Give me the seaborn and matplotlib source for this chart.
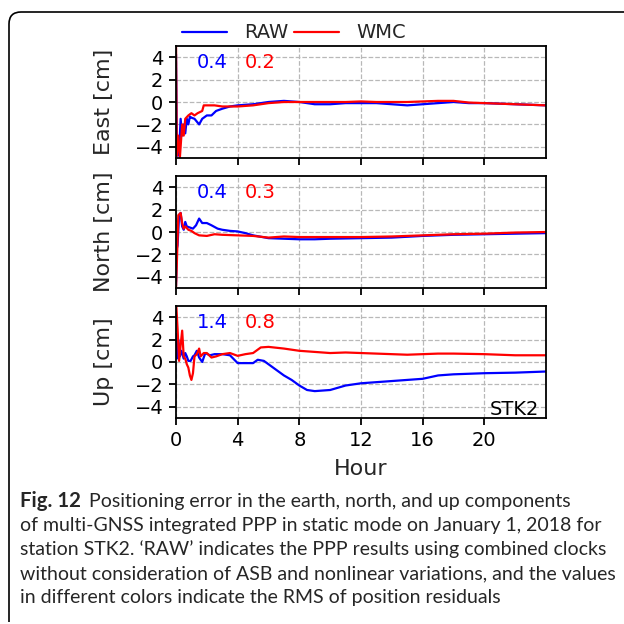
import numpy as np
import pandas as pd
import seaborn as sns
import matplotlib
matplotlib.use("Agg")
import matplotlib.pyplot as plt
from matplotlib.path import Path
from matplotlib.patches import PathPatch

# ---------------- data ----------------
east_raw_t = [0, 0.05, 0.12, 0.2, 0.3, 0.4, 0.5, 0.6, 0.7, 0.8, 0.9, 1.0, 1.2, 1.5, 1.7, 2.0, 2.3, 2.6, 3.0, 3.5, 4, 5, 6, 7, 8, 9, 10, 11, 12, 13, 14, 15, 16, 17, 18, 19, 20, 22, 24]
east_raw_v = [4.3, -3.5, -4.8, -4.6, -1.5, -3.0, -2.0, -2.8, -1.5, -2.0, -1.3, -1.4, -1.5, -2.0, -1.5, -1.2, -1.2, -0.8, -0.6, -0.4, -0.3, -0.2, 0.0, 0.1, 0.0, -0.2, -0.2, -0.1, -0.1, -0.1, -0.2, -0.3, -0.2, -0.1, 0.0, -0.1, -0.1, -0.2, -0.3]
east_wmc_t = [0, 0.05, 0.15, 0.25, 0.4, 0.5, 0.6, 0.8, 1.0, 1.2, 1.4, 1.7, 1.8, 2.1, 2.5, 3, 4, 5, 6, 7, 8, 9, 10, 11, 12, 13, 14, 15, 16, 17, 18, 19, 20, 22, 24]
east_wmc_v = [5.5, -4.8, -3.0, -5.0, -2.0, -3.0, -1.5, -1.2, -1.0, -1.2, -1.0, -0.8, -0.3, -0.3, -0.3, -0.4, -0.4, -0.3, -0.1, 0.0, 0.0, 0.0, 0.0, 0.0, 0.05, 0.0, 0.0, 0.0, 0.05, 0.1, 0.1, -0.05, -0.1, -0.2, -0.3]

north_raw_t = [0, 0.05, 0.1, 0.2, 0.3, 0.4, 0.5, 0.6, 0.7, 0.9, 1.1, 1.3, 1.5, 1.7, 2.0, 2.3, 2.7, 3.0, 3.5, 4, 4.5, 5, 6, 7, 8, 9, 10, 12, 14, 16, 18, 20, 22, 24]
north_raw_v = [-4.8, -1.5, -1.2, 1.5, 1.7, 0.5, 0.2, 0.9, 0.5, 0.4, 0.3, 0.6, 1.2, 0.8, 0.8, 0.6, 0.3, 0.2, 0.1, 0.05, -0.1, -0.3, -0.55, -0.6, -0.65, -0.65, -0.6, -0.55, -0.5, -0.35, -0.25, -0.2, -0.15, -0.1]
north_wmc_t = [0, 0.05, 0.15, 0.3, 0.4, 0.5, 0.6, 0.8, 1.0, 1.2, 1.5, 2.0, 2.5, 3, 4, 5, 6, 7, 8, 10, 12, 14, 16, 18, 20, 22, 24]
north_wmc_v = [-5.0, -3.0, 1.5, 1.7, 0.8, 0.3, 0.5, 0.2, 0.1, -0.1, -0.3, -0.35, -0.2, -0.25, -0.3, -0.35, -0.5, -0.4, -0.45, -0.45, -0.45, -0.4, -0.3, -0.2, -0.15, -0.05, 0.0]

up_raw_t = [0, 0.05, 0.15, 0.25, 0.35, 0.5, 0.6, 0.7, 0.8, 0.95, 1.1, 1.2, 1.35, 1.5, 1.7, 1.9, 2.2, 2.5, 3, 3.5, 4, 4.5, 5, 5.3, 5.7, 6, 6.5, 7, 7.5, 8, 8.5, 9, 10, 11, 12, 13, 14, 15, 16, 17, 18, 19, 20, 22, 24]
up_raw_v = [2.5, 0.3, 2.0, 0.5, 1.0, 0.3, 0.8, 0.5, 0.1, 0.1, 0.5, 0.6, 1.0, 0.4, 0.0, 0.8, 0.6, 0.7, 0.7, 0.6, -0.1, -0.1, -0.1, 0.2, 0.1, -0.2, -0.7, -1.2, -1.6, -2.1, -2.5, -2.6, -2.5, -2.1, -1.9, -1.8, -1.7, -1.6, -1.5, -1.2, -1.1, -1.05, -1.0, -0.95, -0.85]
up_wmc_t = [0, 0.1, 0.2, 0.3, 0.4, 0.5, 0.6, 0.7, 0.8, 0.9, 1.0, 1.1, 1.2, 1.35, 1.5, 1.6, 1.8, 2.0, 2.3, 2.6, 3, 3.5, 4, 4.5, 5, 5.5, 6, 7, 8, 9, 10, 11, 12, 13, 14, 15, 16, 17, 18, 20, 22, 24]
up_wmc_v = [5.5, 3.0, 0.1, 1.5, 2.8, 0.5, 0.3, -0.2, -0.5, -1.2, -1.6, -1.0, 0.5, 0.7, 1.2, 0.5, 0.8, 0.8, 0.4, 0.5, 0.7, 0.8, 0.55, 0.7, 0.8, 1.3, 1.35, 1.2, 1.0, 0.9, 0.8, 0.85, 0.8, 0.75, 0.7, 0.65, 0.7, 0.75, 0.75, 0.7, 0.6, 0.6]

components = ["East", "North", "Up"]
rms_raw = ["0.4", "0.4", "1.4"]
rms_wmc = ["0.2", "0.3", "0.8"]
series_names = ["RAW", "WMC"]
xticks = [0, 4, 8, 12, 16, 20]
yticks = [-4, -2, 0, 2, 4]
station = "STK2"

caption_bold = "Fig. 12"
caption_lines = [
    "Positioning error in the earth, north, and up components",
    "of multi-GNSS integrated PPP in static mode on January 1, 2018 for",
    "station STK2. \u2018RAW\u2019 indicates the PPP results using combined clocks",
    "without consideration of ASB and nonlinear variations, and the values",
    "in different colors indicate the RMS of position residuals",
]

# ---------------- build data frame ----------------
rows = []
data = {
    "East": [(east_raw_t, east_raw_v), (east_wmc_t, east_wmc_v)],
    "North": [(north_raw_t, north_raw_v), (north_wmc_t, north_wmc_v)],
    "Up": [(up_raw_t, up_raw_v), (up_wmc_t, up_wmc_v)],
}
for comp in components:
    for name, (t, v) in zip(series_names, data[comp]):
        for ti, vi in zip(t, v):
            rows.append({"comp": comp, "series": name, "hour": ti, "err": vi})
df = pd.DataFrame(rows)

sns.set_style("ticks")
plt.rcParams["font.family"] = ["DejaVu Sans"]

W = H = 624
fig = plt.figure(figsize=(6.24, 6.24), dpi=100)
palette = {"RAW": "#0000ff", "WMC": "#ff0000"}

def px(x0, y0, x1, y1):
    return [x0 / W, 1 - y1 / H, (x1 - x0) / W, (y1 - y0) / H]

boxes = [px(176, 46, 546, 158), px(176, 176, 546, 288), px(176, 306, 546, 418)]
axes = []
for i, comp in enumerate(components):
    ax = fig.add_axes(boxes[i])
    sub = df[df["comp"] == comp]
    sns.lineplot(data=sub, x="hour", y="err", hue="series", palette=palette,
                 hue_order=series_names, linewidth=1.6, ax=ax, legend=False,
                 estimator=None, sort=False)
    ax.set_xlim(0, 24)
    ax.set_ylim(-5, 5)
    ax.set_xticks(xticks)
    ax.set_yticks(yticks)
    ax.grid(True, linestyle="--", color="#b8b8b8", linewidth=0.9)
    ax.set_axisbelow(True)
    for s in ax.spines.values():
        s.set_visible(True)
        s.set_linewidth(1.3)
        s.set_color("black")
    ax.tick_params(direction="out", length=5, width=1.3, labelsize=14, colors="black", pad=4)
    ax.set_ylabel(f"{comp} [cm]", fontsize=16)
    if i < 2:
        ax.set_xlabel("")
        ax.tick_params(labelbottom=False)
    else:
        ax.set_xlabel("Hour", fontsize=16, labelpad=7)
    ax.text(0.097, 0.855, rms_raw[i], color=palette["RAW"], fontsize=14,
            transform=ax.transAxes, ha="center", va="center")
    ax.text(0.227, 0.855, rms_wmc[i], color=palette["WMC"], fontsize=14,
            transform=ax.transAxes, ha="center", va="center")
    ax.yaxis.set_label_coords(-0.168, 0.5)
    axes.append(ax)

axes[2].text(0.915, -0.01, station, fontsize=14, transform=axes[2].transAxes,
             ha="center", va="bottom", color="black")

handles = [plt.Line2D([], [], color=palette[n], linewidth=1.6) for n in series_names]
fig.legend(handles, series_names, loc="center", bbox_to_anchor=(294 / W, 1 - 33 / H),
           ncol=2, frameon=False, fontsize=14, handlelength=2.3, handletextpad=0.9,
           columnspacing=0.3, borderaxespad=0, borderpad=0)

# ---------------- border (rounded top-left corner) ----------------
x0, y0, r = 9, 12, 12
verts = [(x0, 622), (x0, y0 + r), (x0, y0), (x0 + r, y0), (W, y0)]
codes = [Path.MOVETO, Path.LINETO, Path.CURVE3, Path.CURVE3, Path.LINETO]
verts = [(x / W, 1 - y / H) for x, y in verts]
fig.add_artist(PathPatch(Path(verts, codes), transform=fig.transFigure,
                         facecolor="none", edgecolor="black", linewidth=1.2))

# ---------------- caption ----------------
cap_font = ["Lato", "DejaVu Sans"]
renderer = fig.canvas.get_renderer()
target = 612 - 20
probe = fig.text(0, 0, caption_lines[3], fontsize=13, family=cap_font)
w = probe.get_window_extent(renderer).width
probe.remove()
fs = 13 * target / w

baselines = [507, 531, 555, 579, 603]
tb = fig.text(20 / W, 1 - baselines[0] / H, caption_bold, fontsize=fs * 1.05, family=cap_font,
              fontweight="bold", va="baseline", ha="left")
bw = tb.get_window_extent(renderer).width
fig.text((20 + bw + 8) / W, 1 - baselines[0] / H, caption_lines[0], fontsize=fs,
         family=cap_font, va="baseline", ha="left")
for line, yb in zip(caption_lines[1:], baselines[1:]):
    fig.text(20 / W, 1 - yb / H, line, fontsize=fs, family=cap_font,
             va="baseline", ha="left")

fig.savefig("out.png", dpi=100)
